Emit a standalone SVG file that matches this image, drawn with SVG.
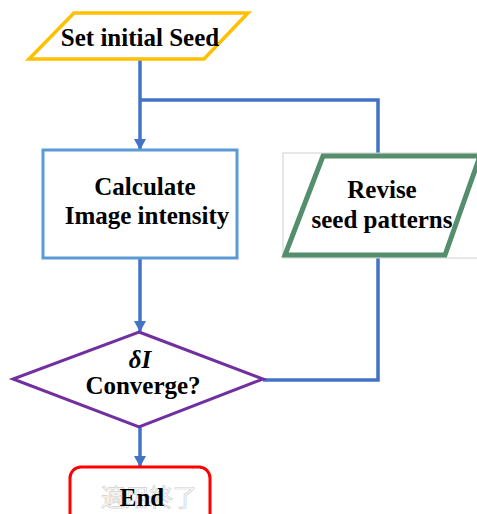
<svg xmlns="http://www.w3.org/2000/svg" width="477" height="514" viewBox="0 0 477 514">
<style>
text{font-family:"Liberation Serif","Times New Roman",serif;font-weight:bold;font-size:25px;fill:#000;text-anchor:middle}
.conn{stroke:#4472C4;stroke-width:3.5;fill:none}
</style>
<defs>
<marker id="ah" markerWidth="12" markerHeight="12" refX="10" refY="6" orient="auto" markerUnits="userSpaceOnUse">
<path d="M0,0 L11,6 L0,12 Z" fill="#4472C4"/>
</marker>
</defs>
<rect width="477" height="514" fill="#fff"/>
<g id="connectors">
<path class="conn" d="M140,60 V149" marker-end="url(#ah)"/>
<path class="conn" d="M140,100 H378 V156"/>
<path class="conn" d="M140,258 V331" marker-end="url(#ah)"/>
<path class="conn" d="M378,255 V380 H263"/>
<path class="conn" d="M140,427 V466" marker-end="url(#ah)"/>
</g>
<g id="start">
<polygon points="74,13 248,13 204,59 29,59" fill="#fff" stroke="#FFC000" stroke-width="3.5"/>
<text x="140" y="46">Set initial Seed</text>
</g>
<g id="calc">
<rect x="43" y="150" width="194" height="108" fill="#fff" stroke="#5B9BD5" stroke-width="3"/>
<text x="145" y="195">Calculate</text>
<text x="147" y="224">Image intensity</text>
</g>
<g id="revise">
<rect x="283" y="153" width="200" height="105" fill="#fff" stroke="#d0d0d0" stroke-width="1"/>
<polygon points="323,156 480,156 445,255 285,255" fill="#fff" stroke="#548E6C" stroke-width="5"/>
<text x="382" y="198">Revise</text>
<text x="382" y="228">seed patterns</text>
</g>
<g id="decision">
<polygon points="139,332 263,379 139,427 13,379" fill="#fff" stroke="#7030A0" stroke-width="3"/>
<text x="140" y="368" font-style="italic" font-size="22">δI</text>
<text x="143" y="394">Converge?</text>
</g>
<g id="end">
<rect x="70" y="467" width="140" height="60" rx="11" fill="#fff" stroke="#FF0000" stroke-width="3"/>
<text x="149" y="506" style="font-family:'Noto Sans CJK JP',sans-serif;font-weight:normal;font-size:24px;fill:#fff;stroke:#d0d0d0;stroke-width:0.7">適用終了</text>
<text x="142" y="506">End</text>
</g>
</svg>
